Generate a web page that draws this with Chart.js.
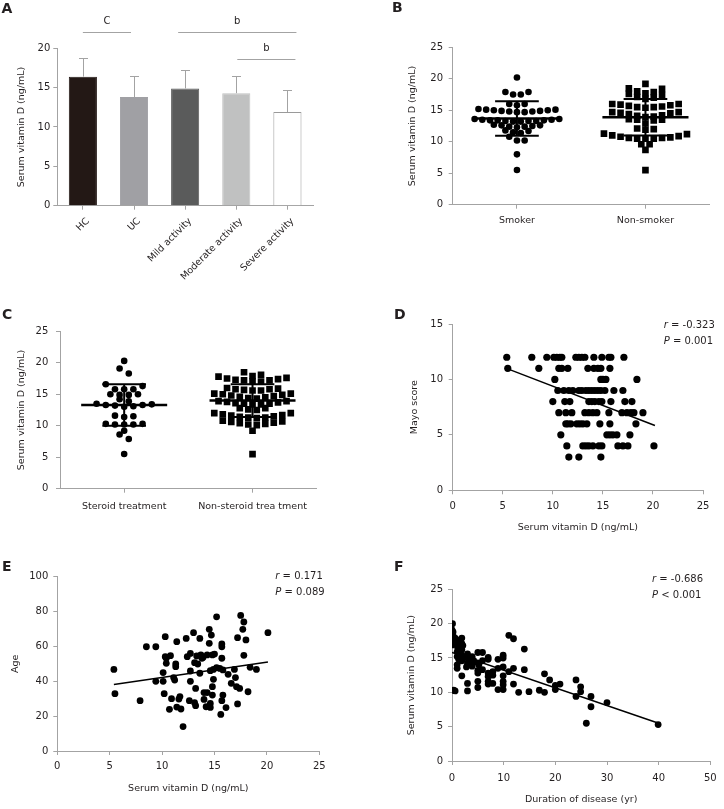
<!DOCTYPE html>
<html lang="en">
<head>
<meta charset="utf-8">
<title>Serum vitamin D</title>
<script src="https://cdn.jsdelivr.net/npm/chart.js@4.4.1/dist/chart.umd.min.js"></script>
<style>
html,body{margin:0;padding:0;background:#ffffff;}
body{position:relative;width:724px;height:809px;overflow:hidden;}
canvas{position:absolute;display:block;}
</style>
</head>
<body>
<canvas id="cA" width="362" height="300" style="left:0px;top:0px"></canvas>
<canvas id="cB" width="362" height="270" style="left:362px;top:0px"></canvas>
<canvas id="cC" width="362" height="260" style="left:0px;top:290px"></canvas>
<canvas id="cD" width="362" height="260" style="left:362px;top:290px"></canvas>
<canvas id="cE" width="362" height="259" style="left:0px;top:550px"></canvas>
<canvas id="cF" width="362" height="259" style="left:362px;top:550px"></canvas>
<script>
// ---------------- DATA ----------------
// Panel A: mean and SD of serum vitamin D by group
const groupsA = ['HC', 'UC', 'Mild activity', 'Moderate activity', 'Severe activity'];
const meanA = [16.4, 13.8, 14.9, 14.3, 11.9];
const sdA = [2.35, 2.7, 2.3, 2.2, 2.8];
const sigPairsA = [[0, 1], [2, 4], [3, 4]];
const sigMarksA = ['C', 'b', 'b'];

// Panel B: smokers vs non-smokers
const groupsB = ['Smoker', 'Non-smoker'];
const smokerVitD = [5.5, 8.0, 10.2, 10.2, 10.8, 11.4, 11.5, 11.7, 11.8, 12.3, 12.4, 12.4, 12.5, 12.6, 12.6, 12.7,
  13.2, 13.2, 13.3, 13.3, 13.3, 13.4, 13.4, 13.4, 13.5, 13.5, 13.6, 13.6, 14.7, 14.7, 14.8, 14.8, 14.9, 14.9,
  15.0, 15.0, 15.1, 15.1, 15.2, 15.8, 16.0, 16.0, 17.5, 17.5, 17.9, 17.9, 20.2];
const nonSmokerVitD = [5.5, 8.7, 9.6, 9.6, 10.5, 10.5, 10.5, 10.6, 10.6, 10.7, 10.8, 10.9, 11.0, 11.2, 11.3, 11.9,
  12.0, 12.1, 12.9, 13.4, 13.5, 13.5, 13.6, 13.9, 14.0, 14.1, 14.2, 14.4, 14.5, 14.6, 14.7, 14.7, 15.4, 15.5,
  15.5, 15.6, 15.7, 15.8, 15.9, 16.0, 16.0, 16.8, 17.0, 17.1, 17.4, 17.6, 17.7, 17.9, 18.0, 18.4, 18.5, 19.2];
const meanB = [13.7, 13.9];
const sdB = [2.75, 2.9];

// Panel C: steroid vs non-steroid treatment
const groupsC = ['Steroid treatment', 'Non-steroid trea tment'];
const steroidVitD = [5.5, 7.9, 8.6, 9.2, 10.2, 10.2, 10.2, 10.3, 10.3, 11.4, 11.5, 11.6, 13.0, 13.1, 13.2, 13.3,
  13.3, 13.4, 13.5, 13.9, 14.2, 14.9, 14.9, 15.0, 15.0, 15.8, 15.8, 15.8, 16.3, 16.6, 18.3, 19.1, 20.3];
const nonSteroidVitD = [5.5, 9.2, 10.1, 10.2, 10.3, 10.4, 10.5, 10.6, 10.7, 10.8, 11.2, 11.3, 11.3, 11.4, 11.5,
  11.6, 11.7, 11.8, 12.0, 12.0, 12.5, 12.6, 12.8, 12.8, 13.4, 13.4, 13.5, 13.5, 13.6, 13.7, 13.8, 13.9, 13.9,
  14.3, 14.4, 14.5, 14.6, 14.7, 14.8, 14.9, 15.0, 15.1, 15.1, 15.6, 15.6, 15.7, 15.8, 15.8, 15.9, 16.0, 17.0,
  17.0, 17.2, 17.2, 17.3, 17.4, 17.5, 17.6, 17.8, 17.9, 18.1, 18.5];
const meanC = [13.3, 14.0];
const sdC = [3.3, 2.6];

// Panel D: Mayo score vs serum vitamin D
const dVitD = [5.4, 7.9, 9.4, 10.1, 10.4, 10.7, 10.9, 12.3, 12.6, 12.9, 13.2, 14.1, 14.9, 15.6, 15.8, 17.1,
  5.5, 8.6, 10.6, 10.9, 11.5, 13.5, 14.1, 14.5, 14.8, 15.7,
  10.2, 14.8, 15.0, 15.3, 18.4,
  10.5, 11.1, 11.6, 12.0, 12.6, 12.9, 13.3, 13.6, 13.9, 14.2, 14.5, 14.8, 15.2, 16.1, 17.0,
  10.0, 11.2, 11.7, 13.6, 13.9, 14.2, 14.6, 14.9, 15.8, 17.2, 17.9,
  10.6, 11.3, 11.9, 13.2, 13.6, 14.0, 14.4, 15.6, 16.9, 17.4, 17.8, 18.1, 19.0,
  11.3, 11.5, 11.8, 12.4, 12.7, 13.0, 13.4, 14.7, 15.7, 18.3,
  10.8, 15.4, 15.7, 16.0, 16.4, 17.7,
  11.4, 13.0, 13.3, 13.6, 14.0, 14.6, 14.9, 16.5, 17.0, 17.5, 20.1,
  11.6, 12.6, 14.8];
const dMayo = [12, 12, 12, 12, 12, 12, 12, 12, 12, 12, 12, 12, 12, 12, 12, 12,
  11, 11, 11, 11, 11, 11, 11, 11, 11, 11,
  10, 10, 10, 10, 10,
  9, 9, 9, 9, 9, 9, 9, 9, 9, 9, 9, 9, 9, 9, 9,
  8, 8, 8, 8, 8, 8, 8, 8, 8, 8, 8,
  7, 7, 7, 7, 7, 7, 7, 7, 7, 7, 7, 7, 7,
  6, 6, 6, 6, 6, 6, 6, 6, 6, 6,
  5, 5, 5, 5, 5, 5,
  4, 4, 4, 4, 4, 4, 4, 4, 4, 4, 4,
  3, 3, 3];
const regDx = [5.5, 20.2];
const regDy = [10.95, 5.85];
const statsD = ['-0.323', '= 0.001'];

// Panel E: age vs serum vitamin D
const eVitD = [5.4, 5.5, 7.9, 8.5, 9.4, 9.4, 10.1, 10.1, 10.2, 10.3, 10.3, 10.4, 10.4, 10.7, 10.8, 10.9, 11.1, 11.2, 11.3, 11.3,
  11.4, 11.4, 11.6, 11.7, 11.8, 12.0, 12.3, 12.4, 12.6, 12.7, 12.7, 12.7, 13.0, 13.1, 13.1, 13.2, 13.2, 13.3, 13.4, 13.6,
  13.6, 13.7, 13.8, 13.9, 14.0, 14.0, 14.2, 14.3, 14.3, 14.5, 14.5, 14.6, 14.6, 14.6, 14.7, 14.8, 14.8, 14.9, 14.9, 15.0,
  14.8, 15.2, 15.2, 15.5, 15.6, 15.7, 15.7, 15.7, 15.7, 15.8, 15.8, 16.1, 16.3, 16.6, 16.9, 17.0, 17.1, 17.2, 17.2, 17.4,
  17.5, 17.7, 17.8, 17.8, 18.0, 18.2, 18.4, 19.0, 20.1];
const eAge = [46.8, 32.9, 28.9, 59.8, 59.8, 40.0, 40.0, 45.0, 32.9, 65.6, 54.1, 53.2, 50.3, 23.9, 54.7, 30.0, 42.1, 40.7, 48.4, 49.9,
  62.7, 25.2, 29.8, 31.2, 24.1, 14.0, 64.6, 54.1, 28.9, 56.0, 40.0, 45.9, 67.9, 50.7, 27.7, 26.0, 35.9, 54.5, 49.9, 64.6,
  44.6, 55.1, 53.2, 53.7, 33.5, 29.6, 25.4, 33.5, 55.1, 69.8, 61.8, 27.3, 25.0, 46.1, 66.5, 55.1, 36.9, 41.1, 46.8, 55.6,
  32.1, 77.0, 47.8, 47.4, 21.0, 28.9, 53.2, 59.8, 61.4, 46.5, 32.1, 24.9, 44.0, 38.8, 46.8, 42.1, 36.9, 65.0, 27.0, 35.9,
  77.8, 69.8, 74.0, 54.9, 63.7, 34.0, 48.0, 46.8, 67.9];
const regEx = [5.4, 20.1];
const regEy = [38.1, 51.0];
const statsE = ['0.171', '= 0.089'];

// Panel F: serum vitamin D vs duration of disease
const fDuration = [0.1, 0.0, 0.2, 0.3, 0.1, 0.5, 0.6, 0.3, 0.6, 0.2, 0.4,
  1.0, 1.0, 1.2, 1.0, 1.3, 1.0, 1.1, 1.3, 1.9, 1.9, 1.9, 1.9, 1.9, 1.9, 2.1, 2.2,
  3.0, 3.0, 3.0, 3.0, 3.0, 2.8, 3.2, 3.9, 4.0, 3.9, 4.2,
  5.0, 5.0, 5.0, 5.0, 5.0, 5.0, 5.2, 5.9, 5.9, 5.9,
  7.0, 7.0, 7.0, 7.0, 7.0, 7.0, 7.9, 7.9, 7.9, 8.9, 8.9, 8.9,
  9.9, 9.9, 9.9, 9.9, 9.9, 9.9, 9.9, 11.0, 11.0, 11.9, 11.9, 11.9, 12.9, 14.0, 14.0, 14.9,
  16.9, 17.9, 17.9, 18.9, 20.0, 20.0, 20.9, 24.0, 24.0, 24.9, 24.9, 26.0, 26.9, 26.9, 30.0, 39.9];
const fVitD = [20.0, 19.1, 18.3, 17.6, 16.9, 17.1, 17.9, 10.3, 10.2, 18.8, 17.3,
  15.9, 13.5, 17.1, 15.2, 17.6, 14.0, 16.5, 14.8, 17.9, 17.1, 16.2, 15.4, 14.6, 12.4, 16.8, 15.0,
  15.6, 15.2, 14.2, 11.3, 10.2, 13.7, 14.8, 15.2, 14.3, 13.8, 14.6,
  15.8, 14.3, 13.2, 12.8, 11.6, 10.7, 14.0, 15.8, 13.3, 14.6,
  15.1, 14.8, 12.8, 12.3, 11.6, 11.2, 13.0, 11.3, 12.5, 14.8, 10.4, 13.5,
  15.4, 15.0, 13.7, 12.4, 11.6, 11.1, 10.4, 18.3, 13.0, 17.8, 13.5, 11.2, 10.0, 16.3, 13.3, 10.1,
  10.3, 12.7, 10.0, 11.8, 11.0, 10.4, 11.2, 11.8, 9.4, 10.8, 10.1, 5.5, 9.4, 7.9, 8.5, 5.3];
const regFx = [0, 40];
const regFy = [15.8, 5.5];
const statsF = ['-0.686', '< 0.001'];

// ---------------- STYLE / HELPERS ----------------
const FONT = "'DejaVu Sans', Verdana, 'Liberation Sans', sans-serif";
const TXT = '#231f20';
const AX = '#a3a3a3';
Chart.defaults.font.family = FONT;
Chart.defaults.color = TXT;
Chart.defaults.animation = false;
Chart.defaults.plugins.legend.display = false;
Chart.defaults.plugins.tooltip.enabled = false;

function frame(rect, area) {
  return {
    pad: { left: 0, top: area.t - rect.t, right: rect.l + rect.w - area.r, bottom: 0 },
    yW: area.l - rect.l,
    xH: rect.t + rect.h - area.b
  };
}

function axis(o) {
  const ax = {
    type: o.type || 'linear',
    offset: !!o.offset,
    ticks: {
      padding: o.tpad, color: TXT, font: { size: o.fs || 10 }, autoSkip: false,
      maxRotation: o.rot || 0, minRotation: o.rot || 0, labelOffset: o.lo || 0
    },
    grid: { drawOnChartArea: false, drawTicks: true, tickLength: 4, tickColor: AX, color: AX, offset: false },
    border: { display: true, color: AX, width: 1 },
    title: o.title ? { display: true, text: o.title, color: TXT, font: { size: 9.5 }, padding: o.titlePad } : { display: false },
    afterFit: o.horiz ? (s) => { s.height = o.size; } : (s) => { s.width = o.size; }
  };
  if (o.min !== undefined) { ax.min = o.min; ax.max = o.max; }
  if (o.step !== undefined) ax.ticks.stepSize = o.step;
  if (o.fixed) {
    ax.afterBuildTicks = (s) => { s.ticks = o.fixed.map(v => ({ value: v })); };
    ax.ticks.callback = (v, i) => o.names[i];
  }
  return ax;
}

function panelText(cfg) {
  return {
    id: 'panelText',
    afterDraw(chart) {
      const ctx = chart.ctx;
      ctx.save();
      ctx.fillStyle = TXT;
      ctx.textBaseline = 'middle';
      ctx.textAlign = 'left';
      ctx.font = 'bold 14px ' + FONT;
      ctx.fillText(cfg.letter, cfg.lx, cfg.ly);
      if (cfg.stats) {
        const rows = [['r', ' = ' + cfg.stats[0]], ['P', ' ' + cfg.stats[1]]];
        rows.forEach((row, i) => {
          let x = cfg.sx;
          const y = cfg.sy[i];
          ctx.font = 'italic 10px ' + FONT;
          ctx.fillText(row[0], x, y);
          x += ctx.measureText(row[0]).width;
          ctx.font = '10px ' + FONT;
          ctx.fillText(row[1], x, y);
        });
      }
      ctx.restore();
    }
  };
}

function lineSet(pts, width) {
  return { type: 'line', data: pts, borderColor: '#000', backgroundColor: '#000', borderWidth: width,
    pointRadius: 0, fill: false, tension: 0, order: 0, borderCapStyle: 'butt' };
}

function meanSdSets(idx, mean, sd) {
  return [
    lineSet([{ x: idx - 0.335, y: mean }, { x: idx + 0.335, y: mean }], 2.5),
    lineSet([{ x: idx - 0.17, y: mean + sd }, { x: idx + 0.17, y: mean + sd }], 2),
    lineSet([{ x: idx - 0.17, y: mean - sd }, { x: idx + 0.17, y: mean - sd }], 2),
    lineSet([{ x: idx, y: mean - sd }, { x: idx, y: mean + sd }], 2)
  ];
}

// Row-based scatter-dot layout (values that fall within one symbol height share a row,
// spread sideways from the centre, lower values in the middle), computed through the chart's scales.
function swarm(chart, values, center, spacing, binPx) {
  const xs = chart.scales.x, ys = chart.scales.y;
  const pxPerUnit = xs.getPixelForValue(1) - xs.getPixelForValue(0);
  const sorted = values.slice().sort((a, b) => a - b);
  const out = [];
  let i = 0;
  while (i < sorted.length) {
    const startPx = ys.getPixelForValue(sorted[i]);
    const bin = [];
    while (i < sorted.length && startPx - ys.getPixelForValue(sorted[i]) < binPx) { bin.push(sorted[i]); i++; }
    const n = bin.length;
    const slots = [];
    if (n % 2) { slots.push(0); for (let k = 1; slots.length < n; k++) slots.push(k, -k); }
    else { for (let k = 0; slots.length < n; k++) slots.push(k + 0.5, -(k + 0.5)); }
    bin.forEach((v, j) => out.push({ x: center + slots[j] * spacing / pxPerUnit, y: v }));
  }
  return out;
}

function ptSet(data, style, r) {
  return { type: 'scatter', data: data, pointStyle: style, pointRadius: r, radius: r,
    backgroundColor: '#000', borderColor: '#000', pointBorderWidth: 0, borderWidth: 0, order: 1 };
}

// ---------------- PANEL A ----------------
(function () {
  const f = frame({ l: 0, t: 0, w: 362, h: 300 }, { l: 57.3, t: 48.3, r: 313, b: 205.7 });
  const fills = ['#231815', '#a0a0a4', '#5a5b5b', '#c0c1c1', '#ffffff'];
  const borders = ['#231815', '#a0a0a4', '#5a5b5b', '#c0c1c1', '#9a9a9a'];
  const sigGeom = [{ lvl: 22.05, l: 0, r: -3 }, { lvl: 22.05, l: -7, r: 9 }, { lvl: 18.6, l: 1, r: 8 }];
  const extras = {
    id: 'extrasA',
    afterDatasetsDraw(chart) {
      const { ctx, scales: { x, y } } = chart;
      ctx.save();
      ctx.strokeStyle = '#a3a3a3';
      ctx.lineWidth = 1;
      meanA.forEach((m, i) => {
        const px = Math.round(x.getPixelForValue(i)) + 0.5;
        const base = y.getPixelForValue(m);
        const top = Math.round(y.getPixelForValue(m + sdA[i])) + 0.5;
        ctx.beginPath();
        ctx.moveTo(px, base); ctx.lineTo(px, top);
        ctx.moveTo(px - 4.5, top); ctx.lineTo(px + 4.5, top);
        ctx.stroke();
      });
      ctx.fillStyle = TXT;
      ctx.font = '10px ' + FONT;
      ctx.textAlign = 'center';
      ctx.textBaseline = 'middle';
      sigPairsA.forEach((pr, k) => {
        const g = sigGeom[k];
        const x1 = x.getPixelForValue(pr[0]) + g.l;
        const x2 = x.getPixelForValue(pr[1]) + g.r;
        const yy = Math.round(y.getPixelForValue(g.lvl)) + 0.5;
        ctx.beginPath(); ctx.moveTo(x1, yy); ctx.lineTo(x2, yy); ctx.stroke();
        ctx.fillText(sigMarksA[k], (x1 + x2) / 2, yy - 11.5);
      });
      ctx.restore();
    }
  };
  new Chart(document.getElementById('cA'), {
    type: 'bar',
    data: { labels: groupsA, datasets: [{ data: meanA, backgroundColor: fills, borderColor: borders, borderWidth: 1,
      barPercentage: 0.55, categoryPercentage: 1 }] },
    options: {
      responsive: false, events: [],
      layout: { padding: f.pad },
      scales: {
        x: axis({ type: 'category', offset: true, horiz: true, size: f.xH, tpad: 6, rot: 45, lo: 5, fs: 9.5 }),
        y: axis({ min: 0, max: 20, step: 5, size: f.yW, tpad: 3, title: 'Serum vitamin D (ng/mL)', titlePad: { top: 16.3, bottom: 0 } })
      }
    },
    plugins: [extras, panelText({ letter: 'A', lx: 1.5, ly: 9.5 })]
  });
})();

// ---------------- PANELS B and C ----------------
function groupPanel(id, rect, area, names, vals0, vals1, means, sds, letter, lpos, yTitlePad, tpadX, tpadY, sp) {
  const f = frame(rect, area);
  const chart = new Chart(document.getElementById(id), {
    type: 'scatter',
    data: { datasets: [ptSet(vals0.map(v => ({ x: 0, y: v })), 'circle', 3.3),
      ptSet(vals1.map(v => ({ x: 1, y: v })), 'rect', 4.7)]
      .concat(meanSdSets(0, means[0], sds[0])).concat(meanSdSets(1, means[1], sds[1])) },
    options: {
      responsive: false, events: [],
      layout: { padding: f.pad },
      scales: {
        x: axis({ min: -0.5, max: 1.5, horiz: true, size: f.xH, tpad: tpadX, fs: 9.5, fixed: [0, 1], names: names }),
        y: axis({ min: 0, max: 25, step: 5, size: f.yW, tpad: tpadY, title: 'Serum vitamin D (ng/mL)', titlePad: { top: yTitlePad, bottom: 0 } })
      }
    },
    plugins: [panelText({ letter: letter, lx: lpos[0], ly: lpos[1] })]
  });
  chart.data.datasets[0].data = swarm(chart, vals0, 0, sp[0], 5.5);
  chart.data.datasets[1].data = swarm(chart, vals1, 1, sp[1], 5.5);
  chart.update('none');
}
groupPanel('cB', { l: 362, t: 0, w: 362, h: 270 }, { l: 452.7, t: 47.3, r: 709.7, b: 204.7 }, groupsB,
  smokerVitD, nonSmokerVitD, meanB, sdB, 'B', [30, 8.5], 44.6, 6.3, 5.7, [7.7, 8.3]);
groupPanel('cC', { l: 0, t: 290, w: 362, h: 260 }, { l: 60, t: 331.3, r: 316.7, b: 488.7 }, groupsC,
  steroidVitD, nonSteroidVitD, meanC, sdC, 'C', [2, 25], 15.6, 7.9, 7.7, [9.2, 8.5]);

// ---------------- PANELS D, E, F ----------------
function corrPanel(id, rect, area, xs, ys, rx, ry, xr, yr, xTitle, yTitle, pads, letter, lpos, stats, spos, rad) {
  const f = frame(rect, area);
  new Chart(document.getElementById(id), {
    type: 'scatter',
    data: { datasets: [ptSet(xs.map((v, i) => ({ x: v, y: ys[i] })), 'circle', rad),
      lineSet(rx.map((v, i) => ({ x: v, y: ry[i] })), 1.5)] },
    options: {
      responsive: false, events: [],
      layout: { padding: f.pad },
      scales: {
        x: axis({ min: xr[0], max: xr[1], step: xr[2], horiz: true, size: f.xH, tpad: pads[0], title: xTitle, titlePad: { top: 0, bottom: pads[1] } }),
        y: axis({ min: yr[0], max: yr[1], step: yr[2], size: f.yW, tpad: pads[2], title: yTitle, titlePad: { top: pads[3], bottom: 0 } })
      }
    },
    plugins: [panelText({ letter: letter, lx: lpos[0], ly: lpos[1], stats: stats, sx: spos[0], sy: spos[1] })]
  });
}
corrPanel('cD', { l: 362, t: 290, w: 362, h: 260 }, { l: 452.7, t: 324, r: 703, b: 490.3 }, dVitD, dMayo, regDx, regDy,
  [0, 25, 5], [0, 15, 5], 'Serum vitamin D (ng/mL)', 'Mayo score', [6, 16.6, 5.7, 47], 'D', [32, 25], statsD, [301.7, [35, 51]], 3.6);
corrPanel('cE', { l: 0, t: 550, w: 362, h: 259 }, { l: 57.3, t: 576.7, r: 319.3, b: 751 }, eVitD, eAge, regEx, regEy,
  [0, 25, 5], [0, 100, 20], 'Serum vitamin D (ng/mL)', 'Age', [5.7, 15, 5, 10.3], 'E', [2, 17], statsE, [275.3, [26.7, 42.7]], 3.4);
corrPanel('cF', { l: 362, t: 550, w: 362, h: 259 }, { l: 452, t: 589.3, r: 710.7, b: 761 }, fDuration, fVitD, regFx, regFy,
  [0, 50, 10], [0, 25, 5], 'Duration of disease (yr)', 'Serum vitamin D (ng/mL)', [7.3, 3.3, 5, 43.6], 'F', [32, 17], statsF, [290, [29, 45]], 3.4);
</script>
</body>
</html>
